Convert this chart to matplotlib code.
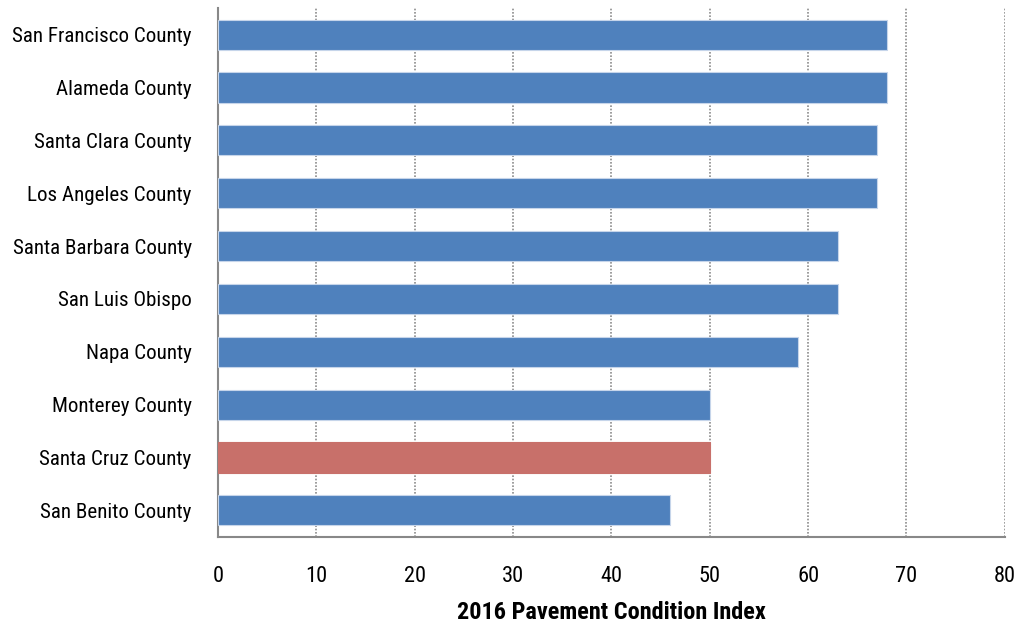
import matplotlib
matplotlib.use("Agg")
import matplotlib.pyplot as plt
from matplotlib import font_manager

# 2016 PCI by county (top to bottom as drawn)
counties = ["San Francisco County", "Alameda County", "Santa Clara County",
            "Los Angeles County", "Santa Barbara County", "San Luis Obispo",
            "Napa County", "Monterey County", "Santa Cruz County",
            "San Benito County"]
pci = [68, 68, 67, 67, 63, 63, 59, 50, 50, 46]
highlight = "Santa Cruz County"

xticks = [0, 10, 20, 30, 40, 50, 60, 70, 80]
xlabel = "2016 Pavement Condition Index"

BLUE = "#4F81BD"
RED = "#C8706A"

# pick a narrow family that has both regular and bold faces
weights = {}
for f in font_manager.fontManager.ttflist:
    weights.setdefault(f.name, set()).add(f.weight if isinstance(f.weight, int) else 400)
narrow = [n for n in weights if "Cond" in n or "Narrow" in n]
order = ["Roboto Condensed", "Liberation Sans Narrow", "Noto Sans Condensed",
         "Open Sans Condensed"]
narrow.sort(key=lambda n: (order.index(n) if n in order else 99, n))
with_bold = [n for n in narrow if any(w >= 600 for w in weights[n])
             and any(350 <= w <= 500 for w in weights[n])]
family = (with_bold or narrow or ["Lato"])[0]
plt.rcParams["font.family"] = [family, "DejaVu Sans"]

fig = plt.figure(figsize=(10.19, 6.3), dpi=100)
renderer = fig.canvas.get_renderer()


def fit_size(s, target_px, weight="normal"):
    t = fig.text(0, 0, s, fontsize=10, fontweight=weight)
    w = t.get_window_extent(renderer).width
    t.remove()
    return 10 * target_px / w


lab_size = min(fit_size("San Francisco County", 179), 17)
bold_size = min(fit_size(xlabel, 310, "bold"), 18)

ax = fig.add_axes([0.214, 0.148, 0.772, 0.839])

ypos = list(range(len(counties)))
colors = [RED if c == highlight else BLUE for c in counties]
edges = [RED if c == highlight else "#C6D5EA" for c in counties]
ax.barh(ypos, pci, height=0.57, color=colors, edgecolor=edges,
        linewidth=0.8, zorder=3)

ax.set_ylim(len(counties) - 0.5, -0.5)
ax.set_xlim(0, 80)
ax.set_yticks(ypos)
ax.set_yticklabels(counties, fontsize=lab_size)
ax.set_xticks(xticks)
ax.set_xticklabels([str(t) for t in xticks], fontsize=lab_size + 1)
ax.tick_params(axis="both", length=0)
ax.tick_params(axis="y", pad=19)
ax.tick_params(axis="x", pad=21)

ax.grid(axis="x", linestyle=(0, (1, 1)), color="#8C8C8C", linewidth=1.2, zorder=0)
ax.grid(axis="y", visible=False)
for s in ("top", "right"):
    ax.spines[s].set_visible(False)
for s in ("left", "bottom"):
    ax.spines[s].set_color("#888888")
    ax.spines[s].set_linewidth(1.5)

ax.set_xlabel(xlabel, fontsize=bold_size, fontweight="bold", labelpad=10)

fig.savefig("out.png", dpi=100)
